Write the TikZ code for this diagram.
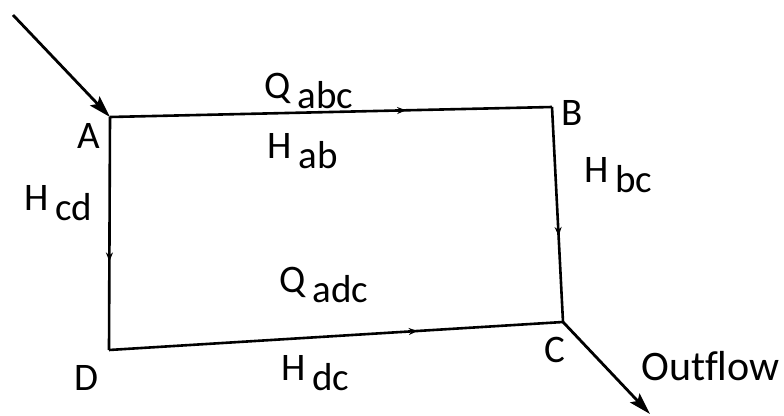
\documentclass[tikz,border=0pt]{standalone}
\usepackage{fontspec}
\setmainfont[Ligatures={NoCommon}]{Carlito}
\usetikzlibrary{arrows.meta,decorations.markings}
\newcommand\lbsub[2]{#1\hspace{7pt}\raisebox{-10pt}{#2}}
\tikzset{
  edge/.style={line width=2.6pt},
  flowarrow/.style={line width=2.8pt,-{Stealth[length=22pt,width=13pt,inset=4pt]}},
  midarrow/.style={decoration={markings,mark=at position #1 with {\arrow{Stealth[length=9pt,width=7pt]}}},postaction={decorate}},
  lbl/.style={anchor=base west,inner sep=0pt,font=\fontsize{39}{44}\selectfont},
  bigl/.style={anchor=base west,inner sep=0pt,font=\fontsize{42}{48}\selectfont}
}
\begin{document}
\begin{tikzpicture}[x=1pt,y=-1pt]
\useasboundingbox (0,0) rectangle (784,415);
\coordinate (A) at (110,117);
\coordinate (B) at (552,107);
\coordinate (C) at (563,322);
\coordinate (D) at (109,350);
\coordinate (in) at (13,15);
\coordinate (out) at (650,414);
\draw[edge,midarrow=0.67] (A) -- (B);
\draw[edge,midarrow=0.60] (B) -- (C);
\draw[edge,midarrow=0.62] (A) -- (D);
\draw[edge,midarrow=0.68] (D) -- (C);
\draw[flowarrow] (in) -- (A);
\draw[flowarrow] (C) -- (out);
\node[lbl] (lA) at (77,148) {A};
\node[lbl] (lB) at (561,125) {B};
\node[lbl] (lC) at (544,362) {C};
\node[lbl] (lD) at (74,390) {D};
\node[lbl] (qabc) at (264,98) {\lbsub{Q}{abc}};
\node[lbl] (hab) at (267,158) {\lbsub{H}{ab}};
\node[lbl] (hbc) at (584,182) {\lbsub{H}{bc}};
\node[lbl] (hcd) at (24,210) {\lbsub{H}{cd}};
\node[lbl] (qadc) at (279,292) {\lbsub{Q}{adc}};
\node[lbl] (hdc) at (281,380) {\lbsub{H}{dc}};
\node[bigl] (outl) at (641,380) {Outflow};
\end{tikzpicture}
\end{document}
